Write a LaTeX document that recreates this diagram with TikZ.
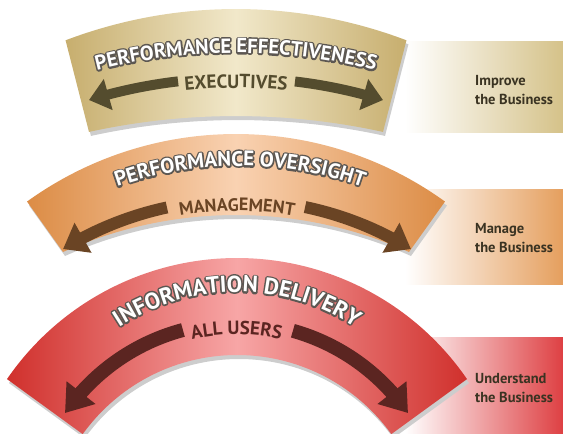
\documentclass[tikz,border=0pt]{standalone}
\usepackage{fontspec}
\setmainfont{PT Sans}
\usetikzlibrary{decorations.text,arrows.meta,bending}
\definecolor{tanE}{HTML}{C7AE6E}
\definecolor{tanM}{HTML}{F1E8CA}
\definecolor{tanB}{HTML}{D5C289}
\definecolor{oraE}{HTML}{DC8C45}
\definecolor{oraM}{HTML}{F9D2B2}
\definecolor{oraB}{HTML}{E59F5E}
\definecolor{redE}{HTML}{D0302C}
\definecolor{redM}{HTML}{F7A6A6}
\definecolor{redB}{HTML}{DE4043}
\definecolor{arrT}{HTML}{544C2E}
\definecolor{arrO}{HTML}{6A4424}
\definecolor{arrR}{HTML}{5B2521}
\definecolor{outl}{HTML}{5C5752}
\definecolor{boxtxt}{HTML}{3A3322}
\definecolor{shad}{HTML}{CDCDCD}
\newcommand\strk{\special{pdf:literal direct 1 Tr 3.2 w 1 j 0.36 0.34 0.32 RG}}
\newcommand\tfA{\bfseries\fontsize{20.5}{24}\selectfont}
\newcommand\tfB{\bfseries\fontsize{21}{25}\selectfont}
\newcommand\tfC{\bfseries\fontsize{23}{27}\selectfont}
\newcommand\sfA{\bfseries\fontsize{19}{22}\selectfont}
\newcommand\sfB{\bfseries\fontsize{18}{22}\selectfont}
\newcommand\sfC{\bfseries\fontsize{19}{23}\selectfont}
\newcommand\arctext[8]{%
  \path[decorate,decoration={text along path,text align=center,text color=#7,text={|#6|#8}}]
    ([shift={(#1,#2)}]#4:#3) arc[start angle=#4,end angle=#5,radius=#3];
}
% outlined title: stroked copy behind, white copy on top
\newcommand\arctitle[7]{%
  \arctext{#1}{#2}{#3}{#4}{#5}{#6\strk}{outl}{#7}%
  \arctext{#1}{#2}{#3}{#4}{#5}{#6}{white}{#7}%
}
\def\bandA{([shift={(236,-55)}]110.8:480) arc[start angle=110.8,end angle=69.2,radius=480] -- ([shift={(236,-370)}]77.66:688) arc[start angle=77.66,end angle=102.34,radius=688] -- cycle}
\def\bandB{([shift={(236,-57)}]125.83:357) arc[start angle=125.83,end angle=54.17,radius=357] -- ([shift={(236,-204)}]65.86:423) arc[start angle=65.86,end angle=114.14,radius=423] -- cycle}
\def\bandC{([shift={(237,-103)}]145.53:279) arc[start angle=145.53,end angle=34.47,radius=279] -- ([shift={(237,-111)}]35.7:190) arc[start angle=35.7,end angle=144.3,radius=190] -- cycle}
\tikzset{
  boxlbl/.style={anchor=base west,inner sep=0pt,align=left,text=boxtxt,
    font=\bfseries\fontsize{14.5}{19}\selectfont},
  shadowed/.style={fill=shad,shift={(2,-4)}}
}
\begin{document}
\begin{tikzpicture}[x=1pt,y=1pt]
\useasboundingbox (0,0) rectangle (563,434);
% right-hand boxes
\shade[left color=white,right color=tanB] (405,301) rectangle (563,392);
\shade[left color=white,right color=oraB] (405,149) rectangle (563,244);
\shade[left color=white,right color=redB] (405,0) rectangle (563,96);
\node[boxlbl] (t1) at (475,329) {Improve\\the Business};
\node[boxlbl] (t2) at (475,181) {Manage\\the Business};
\node[boxlbl] (t3) at (475,31) {Understand\\the Business};
% bands
\path[shadowed] \bandA;
\shade[left color=tanE,right color=tanE,middle color=tanM] \bandA;
\path[shadowed] \bandB;
\shade[left color=oraE,right color=oraE,middle color=oraM] \bandB;
\path[shadowed] \bandC;
\shade[left color=redE,right color=redE,middle color=redM] \bandC;
% arrows
\draw[arrT,line width=10,-{Triangle[width=31pt,length=20pt]}] ([shift={(236,-146)}]96.63:502) arc[start angle=96.63,end angle=107.03,radius=502];
\draw[arrT,line width=10,-{Triangle[width=31pt,length=20pt]}] ([shift={(236,-146)}]83.25:502) arc[start angle=83.25,end angle=72.97,radius=502];
\draw[arrO,line width=12,-{Triangle[width=33pt,length=23pt]}] ([shift={(237,-99)}]102.14:333) arc[start angle=102.14,end angle=121.5,radius=333];
\draw[arrO,line width=12,-{Triangle[width=33pt,length=23pt]}] ([shift={(237,-99)}]78.2:333) arc[start angle=78.2,end angle=58.5,radius=333];
\draw[arrR,line width=14,-{Triangle[width=35pt,length=26pt]}] ([shift={(236.5,-97.4)}]104.9:208.4) arc[start angle=104.9,end angle=145.4,radius=208.4];
\draw[arrR,line width=14,-{Triangle[width=35pt,length=26pt]}] ([shift={(236.5,-97.4)}]74.3:208.4) arc[start angle=74.3,end angle=34.6,radius=208.4];
% titles (white, outlined)
\arctitle{236}{-179}{560}{115}{65}{\tfA}{PERFORMANCE EFFECTIVENESS}
\arctitle{240}{-100}{368}{125}{55}{\tfB}{PERFORMANCE OVERSIGHT}
\arctitle{237}{-73}{215}{145}{35}{\tfC}{INFORMATION DELIVERY}
% subtitles
\arctext{236}{-146}{492}{100}{80}{\sfA}{arrT}{EXECUTIVES}
\arctext{237}{-99}{322}{110}{70}{\sfB}{arrO}{MANAGEMENT}
\arctext{236.5}{-97.4}{197}{115}{65}{\sfC}{arrR}{ALL USERS}
\end{tikzpicture}
\end{document}
